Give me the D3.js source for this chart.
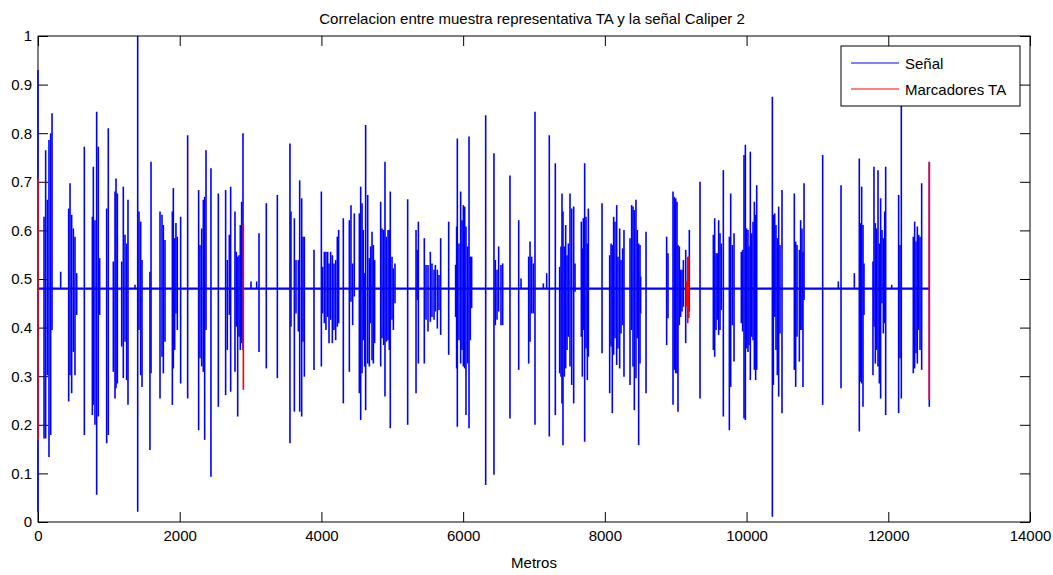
<!DOCTYPE html>
<html>
<head>
<meta charset="utf-8">
<script src="https://cdn.jsdelivr.net/npm/d3@7"></script>
<style>
  body { margin: 0; background: #fff; }
  text { font-family: "Liberation Sans", Arial, sans-serif; }
</style>
</head>
<body>
<script>
// axis ticks
const xTicks = [0, 2000, 4000, 6000, 8000, 10000, 12000, 14000];
const yTicks = [0, 0.1, 0.2, 0.3, 0.4, 0.5, 0.6, 0.7, 0.8, 0.9, 1];

// flat part of the signal and where it stops (metros)
const baseLevel = 0.48;
const signalEnd = 12579;

// blue signal: [metros, max, min] of each excursion
const spikes = [
  [0, .93, .02],
  [85, .628, .172], [108, .765, .172], [132, .663, .302], [155, .786, .134], [179, .800, .179], [198, .841, .395],
  [320, .515, .481],
  [433, .645, .248], [452, .697, .302], [475, .632, .265], [499, .604, .350], [522, .587, .302], [546, .512, .426],
  [654, .772, .179],
  [767, .628, .220], [781, .731, .241], [804, .621, .200], [828, .844, .056], [851, .772, .217], [870, .543, .426],
  [969, .645, .162], [992, .810, .179],
  [1063, .536, .309], [1087, .680, .254], [1101, .707, .275], [1120, .676, .285],
  [1181, .536, .361], [1204, .690, .296], [1228, .591, .371], [1251, .573, .292], [1270, .663, .241],
  [1369, .488, .481],
  [1407, 1.0, .021],
  [1425, .639, .395], [1449, .618, .302], [1468, .539, .278],
  [1580, .515, .148], [1595, .741, .306],
  [1722, .639, .254], [1750, .632, .340], [1769, .611, .306], [1792, .580, .371],
  [1896, .639, .241], [1910, .687, .316], [1929, .584, .354], [1947, .615, .429], [1966, .587, .395],
  [2013, .628, .285],
  [2112, .796, .254],
  [2267, .683, .189], [2286, .570, .337], [2310, .604, .320], [2333, .663, .309], [2352, .669, .169], [2371, .765, .395],
  [2441, .728, .093],
  [2545, .676, .237],
  [2648, .683, .261], [2672, .539, .354], [2700, .591, .426], [2719, .690, .268],
  [2780, .639, .309], [2799, .556, .402], [2818, .546, .217], [2837, .549, .381], [2855, .611, .354], [2874, .659, .368], [2893, .800, .354],
  [3006, .495, .481], [3086, .495, .481],
  [3119, .594, .350],
  [3222, .656, .316],
  [3378, .673, .296],
  [3556, .779, .162], [3570, .639, .402], [3618, .625, .227], [3641, .539, .429], [3674, .539, .392], [3693, .703, .227], [3721, .666, .217], [3740, .587, .371], [3759, .587, .299],
  [3895, .560, .313],
  [3999, .680, .320],
  [4017, .525, .429], [4041, .556, .409], [4064, .556, .395], [4088, .556, .422], [4107, .532, .368], [4130, .556, .416], [4154, .549, .368], [4177, .532, .395], [4201, .539, .374], [4224, .587, .402], [4243, .601, .409],
  [4309, .625, .244],
  [4394, .621, .309], [4417, .652, .453], [4441, .532, .405], [4464, .635, .464],
  [4535, .635, .265], [4554, .690, .210], [4573, .656, .306], [4591, .601, .374], [4610, .512, .320], [4624, .817, .230], [4653, .673, .326], [4676, .543, .320], [4695, .567, .409], [4714, .597, .333], [4733, .570, .326], [4751, .539, .368],
  [4836, .659, .320], [4855, .604, .378], [4878, .601, .364], [4897, .741, .258], [4916, .587, .371], [4940, .601, .374], [4958, .601, .354], [4972, .680, .193], [4996, .546, .416], [5015, .522, .395], [5038, .532, .450],
  [5217, .664, .200],
  [5335, .601, .265], [5353, .560, .457], [5368, .618, .326],
  [5452, .584, .326], [5476, .529, .416], [5504, .529, .392], [5537, .556, .412], [5560, .532, .422], [5589, .519, .416], [5608, .529, .433], [5636, .519, .398], [5659, .508, .436], [5683, .584, .385],
  [5796, .618, .344],
  [5894, .529, .422], [5908, .608, .316], [5918, .789, .196], [5941, .573, .374], [5965, .680, .326], [5984, .621, .354], [6003, .652, .320], [6022, .649, .316], [6040, .608, .220], [6064, .567, .326], [6083, .793, .193], [6101, .546, .374], [6120, .546, .440],
  [6318, .837, .076],
  [6435, .759, .097],
  [6454, .539, .405], [6478, .519, .416], [6501, .567, .433], [6534, .529, .405], [6558, .532, .405],
  [6661, .713, .213],
  [6784, .621, .313],
  [6817, .501, .481],
  [6925, .546, .326], [6944, .577, .371], [6967, .546, .429], [6991, .532, .429],
  [7014, .844, .200],
  [7132, .491, .481], [7179, .512, .481],
  [7216, .796, .176],
  [7301, .738, .220],
  [7362, .525, .306], [7381, .567, .299], [7395, .676, .244], [7409, .639, .158], [7428, .567, .299], [7447, .611, .316], [7466, .549, .354], [7485, .573, .381], [7508, .676, .320], [7532, .645, .282], [7560, .649, .244], [7579, .532, .474],
  [7668, .618, .381], [7682, .563, .299], [7696, .625, .395], [7715, .738, .165], [7734, .628, .357], [7753, .573, .292], [7767, .645, .340],
  [7960, .656, .347],
  [8068, .549, .265], [8087, .573, .361], [8105, .570, .224], [8124, .628, .344], [8143, .618, .378], [8167, .652, .323], [8185, .546, .357], [8209, .604, .316], [8228, .539, .388], [8251, .563, .405], [8270, .601, .299],
  [8355, .584, .282], [8378, .652, .395], [8397, .649, .320], [8416, .642, .230], [8439, .663, .296], [8458, .601, .378], [8477, .573, .158], [8496, .570, .326], [8505, .505, .429],
  [8581, .597, .265],
  [8872, .587, .364], [8891, .553, .419],
  [8962, .680, .241], [8981, .669, .313], [9000, .666, .306], [9018, .659, .306], [9032, .570, .227], [9051, .567, .405], [9070, .519, .422], [9089, .519, .433], [9108, .539, .443],
  [9141, .560, .368], [9192, .601, .433],
  [9343, .700, .254],
  [9531, .591, .354], [9550, .625, .340], [9569, .553, .395], [9587, .553, .416], [9606, .621, .385], [9625, .594, .395], [9644, .573, .436], [9672, .724, .217],
  [9757, .587, .189], [9776, .676, .278], [9799, .570, .405], [9823, .594, .330],
  [9926, .556, .409], [9945, .560, .392], [9964, .755, .213], [9983, .776, .210], [10001, .604, .357], [10020, .601, .350], [10034, .567, .364], [10053, .762, .292], [10072, .594, .381], [10091, .618, .374], [10110, .659, .313], [10128, .632, .292], [10143, .693, .313],
  [10364, .875, .011],
  [10378, .632, .282], [10397, .635, .422], [10415, .611, .354], [10434, .584, .302], [10453, .649, .258], [10472, .570, .388], [10500, .683, .224],
  [10674, .676, .313], [10693, .577, .278], [10712, .570, .381], [10745, .560, .330], [10763, .621, .395], [10782, .604, .395], [10796, .556, .278], [10811, .697, .457],
  [11074, .755, .241],
  [11295, .495, .481],
  [11333, .693, .275],
  [11521, .512, .481],
  [11591, .748, .186], [11605, .615, .289], [11624, .690, .285], [11643, .611, .237], [11657, .532, .426],
  [11784, .536, .302], [11798, .731, .402], [11817, .615, .326], [11836, .604, .354], [11855, .724, .320], [11874, .573, .285], [11892, .666, .254], [11911, .601, .450], [11930, .584, .388], [11949, .639, .409], [11963, .731, .220],
  [12048, .488, .481],
  [12146, .673, .224], [12165, .570, .337], [12184, .875, .254],
  [12353, .587, .306], [12372, .618, .316], [12391, .577, .347], [12410, .608, .326], [12429, .591, .395], [12448, .587, .354], [12471, .697, .313],
  [12579, .741, .237]
];

// red TA markers: [metros, max, min]
const markers = [
  [0, .707, .168],
  [2898, .615, .272],
  [9150, .495, .443], [9170, .546, .409], [9185, .546, .420],
  [12579, .741, .251]
];

const legendItems = [
  {label: "Señal", color: "#0000ff"},
  {label: "Marcadores TA", color: "#ff0000"}
];

const W = 1053, H = 575;
const margin = {top: 36, right: 23, bottom: 53, left: 38};
const tick = 10;

const svg = d3.select("body").append("svg")
  .attr("width", W)
  .attr("height", H);

const x = d3.scaleLinear().domain([0, 14000]).range([margin.left, W - margin.right]);
const y = d3.scaleLinear().domain([0, 1]).range([H - margin.bottom, margin.top]);

// axes box first, data is drawn on top of it (matlab does the same)
svg.append("rect")
  .attr("x", x(0)).attr("y", y(1))
  .attr("width", x(14000) - x(0))
  .attr("height", y(0) - y(1))
  .attr("fill", "none")
  .attr("stroke", "#000");

// axes, ticks pointing inward like matlab
const fmt = d => String(+d.toFixed(1));

svg.append("g")
  .attr("transform", "translate(0," + y(0) + ")")
  .call(d3.axisBottom(x).tickValues(xTicks).tickSizeInner(-tick).tickSizeOuter(0).tickPadding(8).tickFormat(d3.format("d")));
svg.append("g")
  .attr("transform", "translate(0," + y(1) + ")")
  .call(d3.axisTop(x).tickValues(xTicks).tickSizeInner(-tick).tickSizeOuter(0).tickFormat(""));
svg.append("g")
  .attr("transform", "translate(" + x(0) + ",0)")
  .call(d3.axisLeft(y).tickValues(yTicks).tickSizeInner(-tick).tickSizeOuter(0).tickPadding(6).tickFormat(fmt));
svg.append("g")
  .attr("transform", "translate(" + x(14000) + ",0)")
  .call(d3.axisRight(y).tickValues(yTicks).tickSizeInner(-tick).tickSizeOuter(0).tickFormat(""));

svg.selectAll(".tick text")
  .attr("font-family", "Liberation Sans, Arial, sans-serif")
  .attr("font-size", 15)
  .attr("fill", "#000");
svg.selectAll(".domain").remove();

// signal: flat line plus every excursion
svg.append("line")
  .attr("x1", x(0)).attr("x2", x(signalEnd))
  .attr("y1", y(baseLevel)).attr("y2", y(baseLevel))
  .attr("stroke", "#0000ff")
  .attr("stroke-width", 2.2);

svg.append("g").selectAll("line")
  .data(spikes)
  .enter().append("line")
  .attr("x1", d => x(d[0])).attr("x2", d => x(d[0]))
  .attr("y1", d => y(d[1])).attr("y2", d => y(d[2]))
  .attr("stroke", "#0000ff")
  .attr("stroke-width", 1.6);

svg.append("g").selectAll("line")
  .data(markers)
  .enter().append("line")
  .attr("x1", d => x(d[0])).attr("x2", d => x(d[0]))
  .attr("y1", d => y(d[1])).attr("y2", d => y(d[2]))
  .attr("stroke", "#ff0000")
  .attr("stroke-width", 1.6);

// titles
svg.append("text")
  .attr("x", (x(0) + x(14000)) / 2 - 2)
  .attr("y", 24)
  .attr("text-anchor", "middle")
  .attr("font-size", 15)
  .text("Correlacion entre muestra representativa TA y la señal Caliper 2");

svg.append("text")
  .attr("x", (x(0) + x(14000)) / 2)
  .attr("y", 568)
  .attr("text-anchor", "middle")
  .attr("font-size", 15)
  .text("Metros");

// legend
const lg = svg.append("g").attr("transform", "translate(841,46)");
lg.append("rect")
  .attr("width", 179).attr("height", 60)
  .attr("fill", "#fff")
  .attr("stroke", "#000");
const rows = lg.selectAll("g.item")
  .data(legendItems)
  .enter().append("g")
  .attr("class", "item")
  .attr("transform", (d, i) => "translate(0," + (17 + i * 26) + ")");
rows.append("line")
  .attr("x1", 10).attr("x2", 58)
  .attr("stroke", d => d.color)
  .attr("stroke-width", 1.2);
rows.append("text")
  .attr("x", 64).attr("y", 5.5)
  .attr("font-size", 15)
  .text(d => d.label);
</script>
</body>
</html>
